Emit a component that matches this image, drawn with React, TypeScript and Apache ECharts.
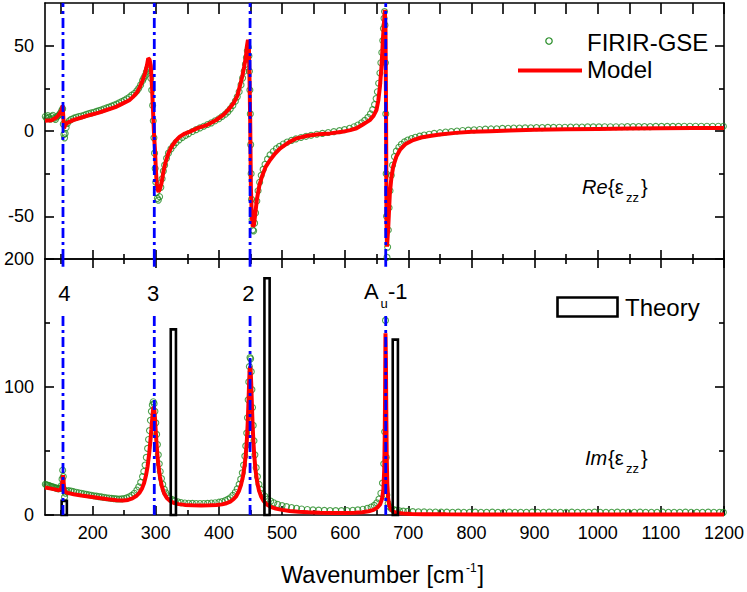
import React, { useEffect, useRef } from "react";
import * as echarts from "echarts";

// ---------- data ----------
const X_MIN = 124.5;
const X_MAX = 1200;
const xMajorTicks = [200, 300, 400, 500, 600, 700, 800, 900, 1000, 1100, 1200];
const xMinorTicks = [150, 250, 350, 450, 550, 650, 750, 850, 950, 1050, 1150];
const xTopTicks = [150, 200, 250, 300, 350, 400, 450, 500, 550, 600, 650, 700, 750, 800, 850, 900, 950, 1000, 1050, 1100, 1150, 1200];
const reMajor = [-50, 0, 50];
const reMinor = [-25, 25];
const imMajor = [0, 100, 200];
const imMinor = [50, 150];
const modeLines = [153, 297.6, 449.3, 664.2];
const modeLineTop = 158;
const theoryBars = [[155, 11], [327.8, 145], [476.2, 185], [679.4, 137]];

const reModel = [
  [124.5, 6], [135, 6.3], [143, 8], [148, 10.4], [151, 12.5], [152.5, 15], [153.5, 8], [154.6, 1.6], [156.5, 3.5], [159, 4.5],
  [164, 5.5], [169, 6.4], [180, 7.6], [196, 9.4], [210, 10.8], [222, 12.3], [236, 14], [248, 16.2], [258, 18], [264, 20],
  [270, 22.5], [275, 26], [279, 29.5], [283, 33.8], [286, 38.5], [288, 42.5], [290, 42], [292, 38.5], [294, 26], [296, 8.4],
  [297.5, -4], [298.7, -11], [300, -22], [301.4, -30.6], [303, -34.5], [304.5, -35.6], [306.5, -34], [309, -30.6], [312, -24],
  [315, -18.9], [320, -13], [325, -9.2], [331, -6], [338, -3.3], [346, -1.5], [354, -0.4], [367, 1.8], [381, 3.5], [395, 6.3],
  [407, 9.4], [415, 12.5], [423, 16.2], [429, 20.5], [433, 26], [437, 32], [440, 37.7], [442.5, 43], [444.5, 50], [446, 53.5],
  [447.5, 48], [448.5, 30], [449.5, 6.4], [450.6, -32.6], [452, -50], [453.6, -56], [455.5, -55], [458, -47], [460, -40.4],
  [464, -32], [468, -26.8], [474, -21], [481, -17], [489, -13.2], [497, -10.2], [510, -6.8], [523, -4.3], [540, -2.8],
  [558, -1.9], [576, -1.4], [595, -0.5], [608, 0.5], [618, 1.6], [628, 3.8], [634, 5.2], [639, 6.4], [645, 9], [649.5, 12.3],
  [652.5, 18], [655, 26], [657.5, 37.7], [660, 55.3], [661.7, 65], [662.8, 71], [663.8, 60], [664.6, 20], [665.4, -52],
  [666.2, -67.8], [668, -58], [670.7, -36.5], [673, -28], [676, -20.9], [681, -15], [686.6, -11.1], [695, -7.8], [707.7, -5.3],
  [720, -3.8], [734, -2.9], [750, -2], [775, -1.1], [800, -0.5], [830, -0.1], [860, 0.3], [900, 0.7], [950, 1], [1000, 1.2],
  [1050, 1.4], [1100, 1.6], [1150, 1.7], [1200, 1.8],
];

const reData = [
  [125, 8.5], [127, 7.5], [129, 9], [131, 8], [133, 7], [135, 8.5], [137, 9.2], [139, 7.5], [141, 6.8], [143, 8.2], [145, 8.8],
  [147, 9.5], [149, 10.5], [151, 12], [152.5, 13], [153.5, 4], [154.5, -2], [155.5, -4], [156.5, -1.5], [158, 2], [160, 4.5],
  [163, 6], [166, 6.8], [170, 7.5], [174, 8], [178, 8.5], [182, 8.8], [186, 9.2], [190, 9.8], [194, 10.2], [198, 10.6],
  [202, 11], [206, 11.5], [210, 12], [214, 12.4], [218, 13], [222, 13.5], [226, 14], [230, 14.6], [234, 15.2], [238, 15.8],
  [242, 16.5], [246, 17.2], [250, 18], [254, 18.8], [258, 19.8], [262, 21], [266, 22], [270, 23.5], [273, 25], [276, 27],
  [279, 29.5], [281, 31], [283, 32.5], [285, 34.5], [287, 36.5], [289, 37.5], [290.5, 35.5], [292, 31], [293.5, 24], [295, 15],
  [296, 6], [297, -4], [298, -13], [299, -22], [300, -30], [301, -36], [302.5, -39.5], [304, -40.5], [306, -38.5], [308, -33],
  [310, -28], [312, -23.5], [314, -20], [317, -16], [320, -13], [324, -10.5], [328, -8.5], [332, -6.8], [337, -5.2], [342, -3.8],
  [347, -2.6], [352, -1.5], [358, -0.3], [364, 0.8], [370, 1.8], [376, 2.8], [382, 3.8], [388, 4.8], [394, 6], [400, 7.2],
  [405, 8.5], [410, 9.8], [414, 11.2], [418, 13], [422, 15], [426, 17.5], [429, 20], [432, 23], [435, 27], [437.5, 31],
  [440, 35], [442, 39], [443.5, 43], [445, 47], [446.5, 49], [447.5, 44], [448.3, 35], [449, 24], [449.7, 10], [450.3, -8],
  [451, -25], [451.7, -40], [452.5, -52], [453.5, -58], [455, -58.5], [456.5, -54], [458, -48], [460, -41], [462, -35],
  [464.5, -30], [467, -26], [470, -22.5], [473, -19.5], [477, -16.5], [481, -14], [486, -12], [491, -10.3], [496, -9],
  [502, -7.6], [508, -6.5], [515, -5.5], [522, -4.6], [530, -3.8], [538, -3.1], [546, -2.5], [555, -1.9], [564, -1.4],
  [573, -0.9], [582, -0.4], [591, 0.2], [599, 0.8], [607, 1.6], [614, 2.5], [620, 3.5], [626, 4.8], [631, 6.2], [636, 8],
  [640, 10], [643.5, 12.5], [646.5, 15.5], [649, 19], [651, 23], [653, 28], [655, 34], [656.5, 40], [658, 46], [659.5, 53],
  [660.5, 60], [661.5, 66], [662.3, 70], [663, 62], [663.7, 40], [664.3, 10], [664.9, -25], [665.5, -50], [666.2, -74],
  [667.2, -68], [668.3, -58], [669.5, -45], [671, -35], [673, -26], [675, -20], [678, -15], [681, -11.8], [685, -9.5],
  [689, -7.8], [694, -6.4], [699, -5.3], [705, -4.4], [711, -3.7], [718, -3], [725, -2.4], [733, -1.9], [741, -1.4],
  [750, -1], [759, -0.6], [768, -0.3], [777, 0], [786, 0.3], [795, 0.5], [804, 0.7], [813, 0.9], [822, 1.1], [831, 1.2],
  [840, 1.3], [849, 1.5], [858, 1.6], [867, 1.7], [876, 1.7], [885, 1.8], [894, 1.9], [903, 2], [912, 2], [921, 2.1],
  [930, 2.1], [939, 2.2], [948, 2.2], [957, 2.3], [966, 2.3], [975, 2.3], [984, 2.4], [993, 2.4], [1002, 2.4], [1011, 2.5],
  [1020, 2.5], [1029, 2.5], [1038, 2.5], [1047, 2.6], [1056, 2.6], [1065, 2.6], [1074, 2.6], [1083, 2.6], [1092, 2.7],
  [1101, 2.7], [1110, 2.7], [1119, 2.7], [1128, 2.7], [1137, 2.8], [1146, 2.8], [1155, 2.8], [1164, 2.8], [1173, 2.8],
  [1182, 2.8], [1191, 2.8], [1199, 2.8],
];

const imModel = [
  [124.5, 21.5], [132, 20.8], [140, 20], [146, 19.4], [149.5, 19.8], [151.3, 23], [152.3, 28], [153, 31], [153.8, 27],
  [154.8, 21], [156.5, 18.2], [160, 17.3], [170, 16.2], [182, 15.2], [196, 14.2], [210, 13.2], [224, 12.3], [238, 11.6],
  [248.5, 11.4], [256, 11.8], [263, 13], [269, 14.8], [274, 17.3], [278, 20.5], [281.5, 25], [284.5, 31], [287, 38],
  [289.3, 47], [291.3, 57], [293, 67], [294.5, 76], [295.6, 82], [296.5, 84.6], [297.5, 83], [298.5, 77], [299.7, 67],
  [301, 57], [302.5, 47], [304.3, 38], [306.5, 30], [309.5, 22.5], [313, 17], [317.5, 13.3], [322, 11.2], [328, 9.6],
  [336, 8.5], [346, 7.9], [358, 7.6], [372, 7.5], [385, 7.6], [396, 7.8], [405, 8.3], [412, 9.2], [418, 10.5], [423, 12.3],
  [427.5, 14.8], [431.5, 18.5], [435, 23.5], [438, 30], [440.5, 38], [442.5, 47], [444.2, 58], [445.6, 72], [446.8, 88],
  [447.8, 103], [448.6, 113], [449.4, 116], [450.2, 113], [451.1, 103], [452.1, 88], [453.2, 72], [454.5, 58], [456, 46],
  [458, 35], [460.5, 26], [463.5, 19], [467, 14.2], [471, 10.8], [476, 8.2], [482, 6.4], [490, 5], [500, 4], [512, 3.2],
  [526, 2.6], [542, 2.1], [560, 1.8], [580, 1.6], [600, 1.6], [615, 1.8], [627, 2.2], [637, 2.9], [645, 4], [651, 5.8],
  [655.5, 8.5], [658.5, 13], [660.5, 20], [661.8, 35], [662.6, 60], [663.2, 95], [663.8, 142], [664.5, 120], [665.1, 80],
  [665.8, 45], [666.7, 24], [668, 13], [670, 7], [673, 4], [677, 2.5], [683, 1.6], [692, 1.1], [705, 0.8], [725, 0.6],
  [760, 0.5], [820, 0.4], [900, 0.35], [1000, 0.3], [1100, 0.3], [1200, 0.3],
];

const imData = [
  [125, 24], [127, 23.5], [129, 23.2], [131, 23], [133, 22.5], [135, 22.2], [137, 22], [139, 21.5], [141, 21.2], [143, 21],
  [145, 20.5], [147, 20.5], [149, 21], [150.5, 23], [151.5, 28], [152.5, 35], [153.5, 30], [154.5, 20], [155.5, 14],
  [157, 17], [159, 18.5], [162, 19], [166, 18.6], [170, 18.2], [174, 17.8], [178, 17.4], [182, 17], [186, 16.6], [190, 16.2],
  [194, 15.8], [198, 15.4], [202, 15], [206, 14.7], [210, 14.4], [214, 14.1], [218, 13.8], [222, 13.5], [226, 13.3],
  [230, 13], [234, 12.8], [238, 12.6], [242, 12.5], [246, 12.6], [250, 12.9], [254, 13.4], [258, 14.2], [262, 15.3],
  [266, 17], [270, 19.5], [273, 22], [276, 25.5], [279, 30], [281, 34], [283, 39], [285, 45], [287, 52], [288.5, 59],
  [290, 66], [291.5, 74], [293, 81], [294.5, 86], [296, 88.5], [297.3, 87], [298.6, 81], [300, 72], [301.3, 63], [302.6, 55],
  [304, 47], [305.5, 40], [307, 34], [309, 28.5], [311, 24], [313.5, 20], [316, 17.3], [319, 15], [322, 13.3], [326, 12],
  [330, 11], [335, 10.2], [340, 9.7], [346, 9.4], [352, 9.2], [358, 9.1], [364, 9], [370, 9], [376, 9], [382, 9.1],
  [388, 9.3], [394, 9.6], [400, 10], [405, 10.5], [410, 11.3], [414, 12.3], [418, 13.5], [422, 15.3], [426, 17.8],
  [429, 20.5], [432, 24], [434.5, 28], [437, 33], [439, 39], [441, 46], [442.5, 54], [444, 64], [445.2, 76], [446.3, 90],
  [447.3, 104], [448.2, 116], [449.2, 123], [450.2, 122], [451.2, 112], [452.2, 98], [453.2, 84], [454.3, 70], [455.5, 58],
  [457, 47], [459, 37], [461, 30], [463.5, 24], [466, 20], [469, 17], [473, 14.5], [477, 12.5], [482, 10.8], [487, 9.5],
  [493, 8.3], [500, 7.3], [507, 6.5], [515, 5.8], [523, 5.2], [531, 4.7], [540, 4.3], [549, 4], [558, 3.8], [567, 3.6],
  [576, 3.5], [585, 3.4], [594, 3.4], [603, 3.5], [612, 3.7], [620, 4], [628, 4.5], [635, 5.2], [641, 6.2], [646, 7.5],
  [650, 9.5], [653.5, 12.5], [656.5, 17], [659, 25], [661, 40], [662.5, 65], [663.8, 152], [665, 45], [666, 15.6],
  [668, 9], [670, 6.5], [673, 5], [677, 4.2], [681, 3.7], [686, 3.3], [692, 3], [699, 2.8], [707, 2.6], [716, 2.5],
  [725, 2.4], [734, 2.3], [743, 2.3], [752, 2.2], [761, 2.2], [770, 2.1], [779, 2.2], [788, 2.1], [797, 2.1], [806, 2.2],
  [815, 2.1], [824, 2.1], [833, 2.2], [842, 2.1], [851, 2.1], [860, 2.2], [869, 2.1], [878, 2.1], [887, 2.1], [896, 2.2],
  [905, 2.1], [914, 2.1], [923, 2.2], [932, 2.1], [941, 2.1], [950, 2.1], [959, 2.2], [968, 2.1], [977, 2.1], [986, 2.1],
  [995, 2.2], [1004, 2.1], [1013, 2.1], [1022, 2.1], [1031, 2.2], [1040, 2.1], [1049, 2.1], [1058, 2.1], [1067, 2.2],
  [1076, 2.1], [1085, 2.1], [1094, 2.1], [1103, 2.2], [1112, 2.1], [1121, 2.1], [1130, 2.1], [1139, 2.2], [1148, 2.1],
  [1157, 2.1], [1166, 2.1], [1175, 2.2], [1184, 2.1], [1193, 2.1], [1199, 2.1],
];

// ---------- style ----------
const FONT = "'Liberation Sans', Arial, Helvetica, sans-serif";
const GREEN = "#238a23";
const RED = "#ff0000";
const BLUE = "#0000ff";
const BLACK = "#000000";

function xAx(gridIndex: number, position: string, ticks: number[], len: number, line: boolean, labels: number[] | null) {
  return {
    type: "value",
    gridIndex,
    position,
    min: X_MIN,
    max: X_MAX,
    axisLine: { show: line, onZero: false, lineStyle: { color: BLACK, width: 1.6 } },
    axisTick: { show: true, inside: true, length: len, customValues: ticks, lineStyle: { color: BLACK, width: 1.6 } },
    axisLabel: labels
      ? {
          show: true,
          customValues: labels,
          color: BLACK,
          fontSize: 18,
          fontFamily: FONT,
          margin: 9,
          formatter: (v: number) => String(v),
        }
      : { show: false },
    splitLine: { show: false },
  };
}

function yAx(gridIndex: number, position: string, min: number, max: number, ticks: number[], len: number, line: boolean, labels: number[] | null) {
  return {
    type: "value",
    gridIndex,
    position,
    min,
    max,
    axisLine: { show: line, onZero: false, lineStyle: { color: BLACK, width: 1.6 } },
    axisTick: { show: true, inside: true, length: len, customValues: ticks, lineStyle: { color: BLACK, width: 1.6 } },
    axisLabel: labels
      ? {
          show: true,
          customValues: labels,
          color: BLACK,
          fontSize: 18,
          fontFamily: FONT,
          margin: 11,
          formatter: (v: number) => String(v),
        }
      : { show: false },
    splitLine: { show: false },
  };
}

function vline(xi: number, yi: number, x: number, y0: number, y1: number) {
  return {
    type: "line",
    xAxisIndex: xi,
    yAxisIndex: yi,
    data: [[x, y0], [x, y1]],
    symbol: "none",
    silent: true,
    lineStyle: { color: BLUE, width: 2.8, type: [10, 4, 3, 4], cap: "butt" },
    z: 6,
  };
}

function txt(text: string, x: number, y: number, size: number, extra: any = {}) {
  return {
    type: "text",
    x,
    y,
    z: 10,
    style: {
      text,
      fontSize: size,
      fontFamily: FONT,
      fill: BLACK,
      align: "left",
      verticalAlign: "middle",
      ...extra,
    },
  };
}

export default function App() {
  const ref = useRef<HTMLDivElement>(null);

  useEffect(() => {
    document.body.style.margin = "0";
    if (!ref.current) return;
    const chart = echarts.init(ref.current, null, { renderer: "svg" });

    const option: any = {
      animation: false,
      backgroundColor: "#ffffff",
      grid: [
        { left: 45, top: 3, width: 679, height: 256, outerBoundsMode: "none", containLabel: false },
        { left: 45, top: 259, width: 679, height: 256, outerBoundsMode: "none", containLabel: false },
      ],
      xAxis: [
        xAx(0, "bottom", xMajorTicks, 9, true, null),
        xAx(0, "bottom", xMinorTicks, 5, false, null),
        xAx(0, "top", xTopTicks, 11, true, null),
        xAx(1, "bottom", xMajorTicks, 9, true, xMajorTicks),
        xAx(1, "bottom", xMinorTicks, 5, false, null),
        xAx(1, "top", xMajorTicks, 9, true, null),
        xAx(1, "top", xMinorTicks, 5, false, null),
      ],
      yAxis: [
        yAx(0, "left", -75, 75, reMajor, 9, true, reMajor),
        yAx(0, "left", -75, 75, reMinor, 5, false, null),
        yAx(0, "right", -75, 75, reMajor, 9, true, null),
        yAx(0, "right", -75, 75, reMinor, 5, false, null),
        yAx(1, "left", 0, 200, imMajor, 9, true, imMajor),
        yAx(1, "left", 0, 200, imMinor, 5, false, null),
        yAx(1, "right", 0, 200, imMajor, 9, true, null),
        yAx(1, "right", 0, 200, imMinor, 5, false, null),
      ],
      series: [
        {
          type: "scatter",
          name: "FIRIR-GSE",
          xAxisIndex: 0,
          yAxisIndex: 0,
          data: reData,
          symbol: "circle",
          symbolSize: 6,
          silent: true,
          itemStyle: { color: "rgba(0,0,0,0)", borderColor: GREEN, borderWidth: 1.1 },
          z: 2,
        },
        {
          type: "line",
          name: "Model",
          xAxisIndex: 0,
          yAxisIndex: 0,
          data: reModel,
          symbol: "none",
          silent: true,
          lineStyle: { color: RED, width: 4 },
          z: 3,
        },
        ...modeLines.map((x) => vline(0, 0, x, -75, 75)),
        {
          type: "scatter",
          name: "FIRIR-GSE",
          xAxisIndex: 3,
          yAxisIndex: 4,
          data: imData,
          symbol: "circle",
          symbolSize: 6,
          silent: true,
          itemStyle: { color: "rgba(0,0,0,0)", borderColor: GREEN, borderWidth: 1.1 },
          z: 2,
        },
        {
          type: "line",
          name: "Model",
          xAxisIndex: 3,
          yAxisIndex: 4,
          data: imModel,
          symbol: "none",
          silent: true,
          lineStyle: { color: RED, width: 4 },
          z: 3,
        },
        {
          type: "custom",
          name: "Theory",
          xAxisIndex: 3,
          yAxisIndex: 4,
          data: theoryBars,
          encode: { x: 0, y: 1 },
          silent: true,
          z: 4,
          renderItem: (params: any, api: any) => {
            const top = api.coord([api.value(0), api.value(1)]);
            const base = api.coord([api.value(0), 0]);
            return {
              type: "rect",
              shape: { x: top[0] - 2.6, y: top[1], width: 5.2, height: base[1] - top[1] },
              style: { fill: "none", stroke: BLACK, lineWidth: 2.6 },
            };
          },
        },
        ...modeLines.map((x) => vline(3, 4, x, 0, modeLineTop)),
        ...modeLines.map((x) => vline(3, 4, x, 194, 200)),
      ],
      graphic: [
        // legend (top panel)
        { type: "circle", z: 10, shape: { cx: 549, cy: 41, r: 3.2 }, style: { fill: "none", stroke: GREEN, lineWidth: 1.2 } },
        txt("FIRIR-GSE", 587, 42, 24),
        { type: "line", z: 10, shape: { x1: 518, y1: 70.5, x2: 582, y2: 70.5 }, style: { stroke: RED, lineWidth: 3.8 } },
        txt("Model", 587, 69, 24),
        // panel label Re
        txt("Re", 582, 187, 20, { fontStyle: "italic" }),
        txt("{ε", 608, 187, 20),
        txt("zz", 626, 197, 13),
        txt("}", 641, 187, 20),
        // legend (bottom panel)
        { type: "rect", z: 10, shape: { x: 557.5, y: 297.5, width: 60, height: 19 }, style: { fill: "none", stroke: BLACK, lineWidth: 2.6 } },
        txt("Theory", 625, 307, 24),
        // mode labels
        txt("4", 64.3, 293, 22, { align: "center" }),
        txt("3", 153, 293, 22, { align: "center" }),
        txt("2", 248.3, 293, 22, { align: "center" }),
        txt("A", 364, 291, 22),
        txt("u", 380.5, 303, 13),
        txt("-1", 388, 291, 22),
        // panel label Im
        txt("Im", 585, 458, 20, { fontStyle: "italic" }),
        txt("{ε", 608, 458, 20),
        txt("zz", 626, 468, 13),
        txt("}", 641, 458, 20),
        // x axis title
        txt("Wavenumber [cm", 281, 575, 23.5),
        txt("-1", 466, 568, 12),
        txt("]", 477.5, 575, 23.5),
      ],
    };

    chart.setOption(option);
    return () => chart.dispose();
  }, []);

  return <div ref={ref} style={{ width: 747, height: 592 }} />;
}
